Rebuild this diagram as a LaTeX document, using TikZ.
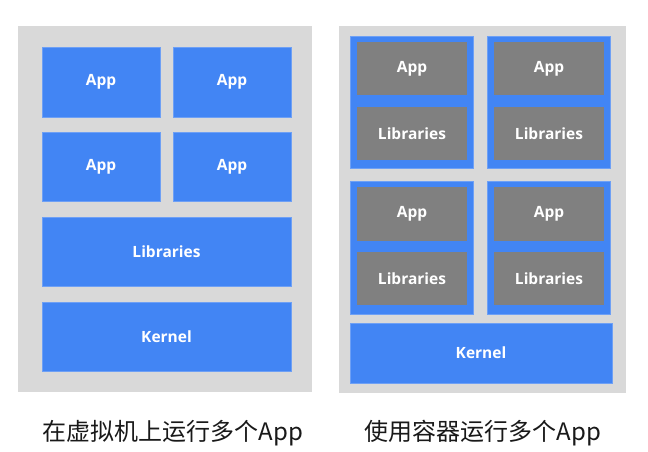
\documentclass[tikz,border=0pt]{standalone}
\usepackage{fontspec}
\setmainfont{Open Sans}
\newfontfamily\cjk{Noto Sans CJK SC}
\definecolor{bgray}{RGB}{217,217,217}
\definecolor{gblue}{RGB}{66,133,244}
\definecolor{gblueedge}{RGB}{110,160,245}
\definecolor{igray}{RGB}{128,128,128}
\begin{document}
\begin{tikzpicture}[x=1pt,y=-1pt,
  panel/.style={fill=bgray,draw=none},
  bluebox/.style={fill=gblue,draw=gblueedge,line width=0.6pt,text=white,font=\bfseries\fontsize{15.5}{18}\selectfont},
  graybox/.style={fill=igray,draw=none,text=white,font=\bfseries\fontsize{15.5}{18}\selectfont},
  caption/.style={font=\cjk\fontsize{24}{28}\selectfont,text=black!90}]
\useasboundingbox (0,0) rectangle (648,452);
% left panel
\fill[panel] (18,26) rectangle (312,392);
\path[bluebox] (42,47) rectangle node (a1) {App} (160,117);
\path[bluebox] (173,47) rectangle node (a2) {App} (291,117);
\path[bluebox] (42,132) rectangle node (a3) {App} (160,201);
\path[bluebox] (173,132) rectangle node (a4) {App} (291,201);
\path[bluebox] (42,217) rectangle node (l1) {Libraries} (291,286);
\path[bluebox] (42,302) rectangle node (k1) {Kernel} (291,371);
\node[caption] (c1) at (173,433) {在虚拟机上运行多个App};
% right panel
\fill[panel] (339,26) rectangle (626,393);
\path[bluebox] (350,36) rectangle (473,168);
\path[bluebox] (487,36) rectangle (610,168);
\path[bluebox] (350,181) rectangle (473,314);
\path[bluebox] (487,181) rectangle (610,314);
\path[graybox] (357,42) rectangle node (b1) {App} (467,95);
\path[graybox] (357,107) rectangle node (b2) {Libraries} (467,160);
\path[graybox] (494,42) rectangle node (b3) {App} (604,95);
\path[graybox] (494,107) rectangle node (b4) {Libraries} (604,160);
\path[graybox] (357,187) rectangle node (b5) {App} (467,241);
\path[graybox] (357,252) rectangle node (b6) {Libraries} (467,305);
\path[graybox] (494,187) rectangle node (b7) {App} (604,241);
\path[graybox] (494,252) rectangle node (b8) {Libraries} (604,305);
\path[bluebox] (350,323) rectangle node (k2) {Kernel} (612,383);
\node[caption] (c2) at (483,433) {使用容器运行多个App};
\end{tikzpicture}
\end{document}
